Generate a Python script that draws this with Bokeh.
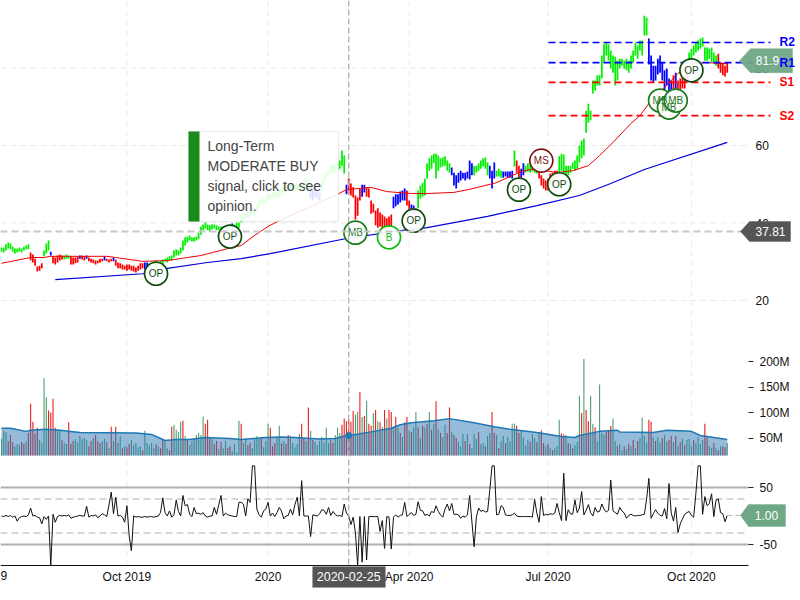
from bokeh.plotting import figure
from bokeh.models import Range1d, LinearAxis, FixedTicker, BoxAnnotation
from bokeh.core.properties import value
from bokeh.embed import file_html
from bokeh.resources import INLINE

# ---------- data ----------
price_high = [33.7,33.7,34.5,35.0,34.7,33.9,33.4,33.4,33.7,33.4,33.9,34.2,34.5,32.4,31.9,30.8,28.8,29.0,29.6,32.9,
 34.7,35.5,32.6,31.4,31.1,31.6,31.9,31.6,31.6,31.9,31.6,31.4,31.1,31.1,31.4,31.6,31.6,31.4,31.6,31.1,
 30.8,30.6,30.3,30.3,30.8,30.8,31.4,30.8,30.6,30.8,31.1,30.6,29.8,29.6,29.3,29.0,29.3,29.3,29.0,29.0,
 28.5,29.0,29.6,29.6,29.8,29.8,29.6,29.8,30.1,30.3,29.8,30.3,30.6,30.8,31.1,31.4,31.6,32.9,33.2,32.9,
 33.7,35.5,36.3,36.5,36.8,36.3,36.3,36.5,37.5,39.1,39.6,40.1,39.6,39.4,39.6,39.6,39.4,39.1,39.1,38.8,
 39.1,39.4,39.6,39.9,39.6,40.1,40.1,42.2,42.7,42.4,42.7,43.2,43.8,43.2,44.8,45.8,46.3,46.1,46.6,47.6,
 47.4,47.9,48.4,47.9,48.4,48.9,49.4,49.9,49.9,50.2,50.4,49.9,50.2,49.9,50.7,51.0,51.5,50.4,49.4,48.9,
 49.4,48.4,47.9,51.0,52.3,53.5,54.0,54.8,55.1,54.8,55.4,56.1,58.7,57.4,49.9,51.5,50.2,49.2,47.1,46.6,
 48.9,49.9,49.9,49.2,48.9,45.8,45.0,43.2,43.8,42.7,42.2,41.7,41.2,41.7,42.2,46.8,47.4,47.4,48.1,48.4,
 48.9,48.4,45.8,44.8,44.5,43.8,48.4,49.7,50.4,51.5,55.4,56.7,57.4,57.9,57.9,57.4,56.7,56.9,57.2,56.1,
 55.4,54.3,53.0,52.3,53.0,53.5,53.0,53.0,53.3,56.1,55.4,54.8,54.8,55.4,56.1,56.7,56.9,55.6,54.8,53.5,
 55.6,53.5,54.0,53.5,53.3,53.3,53.3,53.3,53.5,58.7,56.1,54.8,54.0,55.4,54.8,55.4,55.4,54.8,55.4,54.8,
 53.5,52.3,51.5,51.0,51.5,52.8,53.0,53.5,53.5,57.2,57.9,57.7,54.8,54.8,54.8,55.6,56.1,57.4,60.0,61.3,
 61.8,69.0,70.8,69.0,76.8,76.8,78.1,78.1,83.2,86.1,86.6,86.1,84.5,83.2,82.9,81.9,82.4,82.4,81.9,82.4,
 81.9,83.2,84.5,86.6,85.8,87.1,87.1,93.5,93.0,87.6,83.2,80.6,80.6,82.4,83.2,81.4,79.4,79.9,77.3,76.8,
 78.1,78.8,76.8,77.3,77.8,78.1,79.4,84.0,85.0,85.8,86.6,87.1,87.6,87.9,85.3,85.3,85.0,85.3,84.0,83.2,
 83.7,81.4,81.4,80.6,81.4]
price_low = [32.6,32.4,32.9,33.4,33.2,32.6,32.1,32.4,32.6,32.4,32.9,33.2,33.2,30.3,29.8,29.0,27.5,27.7,28.3,31.4,
 32.1,32.9,31.6,29.6,29.3,29.8,30.3,30.6,30.6,30.8,30.8,29.3,29.3,29.6,29.8,30.8,30.6,30.3,30.8,30.1,
 29.8,29.6,29.3,29.6,29.8,30.1,30.3,30.1,29.8,30.1,30.1,29.0,28.3,28.3,28.0,28.0,27.7,28.0,27.7,27.5,
 27.2,27.7,28.0,28.3,28.0,28.3,28.3,28.5,28.8,29.0,29.0,29.3,29.3,30.1,29.8,30.3,30.3,31.1,31.6,31.6,
 32.1,32.9,34.2,35.0,35.5,35.2,35.2,35.5,35.8,37.0,38.1,38.6,38.1,37.8,38.3,38.6,38.1,38.1,38.3,37.5,
 37.8,38.3,38.6,38.3,38.6,38.6,38.8,40.1,40.6,41.2,41.2,41.7,42.2,41.9,42.7,44.0,44.8,44.5,45.0,45.8,
 46.1,46.3,46.6,46.3,46.8,46.8,47.6,47.9,48.4,48.4,48.4,48.1,48.4,48.1,48.4,48.9,49.4,48.4,46.3,45.8,
 46.8,46.3,45.8,48.4,50.4,51.5,52.3,53.0,53.0,53.0,53.5,54.0,54.8,52.8,47.4,47.6,47.1,46.6,40.9,41.9,
 45.8,46.8,47.9,46.8,46.6,42.4,42.7,39.4,38.8,39.1,38.6,38.3,38.6,38.6,38.8,43.8,44.3,44.8,45.3,45.8,
 45.8,44.5,42.7,42.7,42.2,42.4,43.8,46.3,46.8,47.1,51.5,53.5,54.0,55.4,51.5,53.5,54.3,54.6,54.8,53.5,
 53.0,52.3,49.7,48.9,50.4,51.0,51.5,51.0,51.5,51.2,52.3,52.3,53.0,53.5,54.0,54.6,54.0,52.3,51.5,48.9,
 51.5,52.0,52.0,51.7,51.7,52.0,51.7,51.7,51.5,54.6,53.0,51.5,51.7,52.3,53.0,53.3,53.0,53.3,53.0,52.8,
 51.5,49.7,48.9,48.4,48.4,49.7,50.4,51.0,51.7,53.0,53.5,53.0,52.5,52.3,53.0,54.0,53.5,54.0,55.6,56.7,
 57.4,63.3,65.9,66.5,73.4,74.2,75.5,75.5,77.3,81.4,83.2,81.9,79.9,78.8,75.5,76.8,79.9,80.6,79.9,79.4,
 78.8,79.9,81.4,83.2,82.4,84.5,83.2,88.4,88.4,80.9,76.8,76.3,76.8,78.3,78.8,76.8,74.2,75.5,73.7,73.7,
 74.2,74.7,73.7,74.2,74.7,74.7,76.8,81.4,82.4,83.2,84.0,84.5,85.0,85.5,81.9,81.9,82.4,81.4,81.4,80.6,
 79.9,78.8,78.1,77.8,78.8]
bar_kind_runs = [("g",13),("r",6),("g",3),("b",1),("r",5),("g",3),("r",4),("b",1),("r",2),("b",1),("r",7),("b",1),
 ("r",3),("b",1),("r",13),("b",2),("g",37),("b",1),("g",34),("b",5),("g",11),("b",1),("r",6),("b",2),("r",12),
 ("b",6),("r",2),("b",2),("r",1),("g",15),("b",10),("g",7),("b",3),("g",3),("b",5),("g",1),("r",2),("b",2),
 ("g",6),("r",9),("g",40),("b",11),("r",1),("b",1),("r",5),("g",13),("r",5)]

ma50_day = [0,13,19,22,47,51,63,74,83,89,101,107,113,119,124,139,149,154,165,172,183,190,202,209,221,232,238,248,255,262,267,273,281,285,289,296,302,309,314,324]
ma50_val = [29.6,31.1,31.1,31.4,31.4,31.1,30.1,30.3,31.1,31.6,33.4,34.2,36.8,39.1,40.6,44.5,47.1,48.6,49.2,48.1,47.6,47.6,47.9,48.7,50.4,53.3,54.0,53.0,53.5,54.8,57.4,60.8,65.7,67.7,70.8,75.0,78.6,81.1,81.4,81.1]
ma200_day = [24,63,74,92,107,120,154,179,190,217,239,258,272,287,324]
ma200_val = [25.4,26.9,28.3,29.8,30.8,32.1,36.0,38.1,38.8,41.7,44.5,47.1,50.2,53.8,60.8]

volume = [49,64,62,44,56,42,34,38,36,42,38,44,60,117,82,59,70,46,40,167,130,104,100,127,70,67,66,46,40,38,
 81,38,44,48,42,54,48,50,46,34,44,50,56,44,40,44,48,42,30,72,44,72,40,54,30,34,32,38,46,36,
 40,32,34,26,64,40,36,40,30,38,34,30,46,44,30,26,72,76,66,62,82,84,54,46,36,44,50,56,60,56,
 92,78,86,52,48,38,44,28,42,30,44,30,34,24,38,22,84,78,40,48,36,40,30,50,54,48,52,32,44,78,
 70,34,40,50,74,40,44,38,56,54,40,32,38,58,78,48,44,110,64,46,42,36,44,52,40,70,40,46,40,56,
 70,60,76,88,83,86,82,103,96,101,140,91,93,123,78,74,99,105,83,81,72,105,88,105,101,70,91,70,60,52,
 81,91,64,62,70,101,70,50,74,70,78,101,66,78,122,66,60,52,76,60,110,62,56,50,42,34,58,44,58,38,
 30,58,48,62,38,40,34,54,60,101,60,56,30,44,54,40,52,44,78,78,74,60,64,50,36,46,42,58,50,42,
 62,65,40,34,38,30,26,30,34,86,59,57,56,40,38,30,36,42,133,99,205,105,83,133,78,71,44,155,60,56,
 62,66,74,88,44,34,38,26,34,28,38,34,46,30,44,50,90,54,40,86,82,52,44,52,40,50,56,44,46,54,
 42,54,34,42,48,36,46,48,34,46,40,52,38,46,78,54,34,30,40,30,26,34,34,32,40]
volume_red_days = [3,4,5,9,10,12,13,14,15,16,21,22,23,24,27,30,31,32,39,40,42,43,44,47,49,51,54,56,57,63,69,71,72,75,76,81,
 83,91,92,93,95,96,98,101,102,107,110,111,116,120,121,122,125,127,128,134,135,137,139,147,148,152,153,154,155,156,157,
 160,162,164,165,167,169,171,173,174,176,178,180,181,183,186,188,190,192,194,196,199,200,202,203,207,209,213,216,219,
 220,222,225,230,231,236,239,241,242,244,246,250,251,253,255,259,261,262,265,270,271,272,275,278,280,282,284,289,290,
 292,295,298,299,301,303,305,309,314,315,318,320,322,323]
volume_avg_day = [0,4,11,13,20,26,35,60,67,73,78,84,91,102,107,118,125,131,142,149,154,158,165,174,178,183,193,200,211,220,227,239,250,256,258,267,275,276,291,297,308,312,324]
volume_avg = [69,69,63,65,67,65,61,60,57,45,47,47,51,49,47,51,52,51,48,49,55,57,62,69,76,80,84,88,80,72,67,61,53,51,55,63,65,62,61,65,63,55,47]

oscillator = [0,-1,1,-1,1,-2,0,-9,-3,-1,0,-1,2,14,0,1,-2,-3,-14,-1,-6,0,-87,3,-11,-1,1,0,1,0,
 2,-4,-2,-1,0,1,0,0,17,-2,1,0,2,-3,0,4,2,-1,20,42,4,33,0,1,-2,-11,18,-35,-61,0,
 -2,-1,-2,-2,-1,-2,-1,-1,-2,-1,0,6,32,6,0,9,-2,2,28,8,0,36,18,20,3,-1,15,4,5,3,
 6,0,-2,0,0,15,3,20,36,0,5,2,1,0,-1,-1,24,24,21,0,30,24,88,88,12,2,-2,9,12,24,
 0,5,-1,6,15,9,-5,0,1,12,2,20,33,0,62,0,0,0,-36,2,1,0,4,11,10,3,15,1,8,3,
 0,1,-1,21,5,0,-15,-2,-29,-87,-1,-81,-1,-77,-1,-1,-1,-1,-1,-27,-8,-57,-1,-2,-58,-2,2,-2,1,2,
 24,-1,3,6,1,3,25,10,9,1,3,0,8,6,18,8,2,-2,12,21,9,22,3,3,2,-4,0,-2,2,36,
 -10,-54,-2,14,8,10,7,8,46,88,88,2,3,18,15,2,1,1,2,5,0,-1,-1,-1,-1,-1,-1,-2,29,5,
 -11,34,1,3,2,4,3,5,22,6,-8,75,-8,11,4,3,28,6,14,43,2,10,20,6,0,15,7,8,21,12,
 7,10,63,9,6,3,15,9,5,-4,1,3,1,0,1,1,2,3,30,66,-4,4,11,5,1,0,13,-5,57,5,
 -9,15,-29,-14,-5,3,6,8,1,-2,40,88,88,3,34,18,22,39,-1,28,30,6,4,-10,1]

signal_day = [69,102,158,173,184,231,249,241,294,298,301,308]
signal_price = [26.9,36.5,37.5,36.3,40.6,48.6,50.0,56.1,71.6,69.8,71.6,79.4]
signal_name = ["OP","OP","MB","B","OP","OP","OP","MS","MB","MB","MB","OP"]
signal_colors = {"OP":"#0f4d0f","MB":"#1a7a1a","B":"#11bb11","MS":"#7a1515"}

pivot_names = ["R2","R1","S1","S2"]
pivot_values = [86.6,81.4,76.3,67.7]
pivot_colors = ["#0000ff","#0000ff","#ff0000","#ff0000"]

price_ticks = [20,40,60,80]
volume_ticks = [50,100,150,200]
osc_ticks = [-50,50]
date_days = [56,119,182,244,308]
date_labels = ["Oct 2019","2020","Apr 2020","Jul 2020","Oct 2020"]
alert_lines = ["Long-Term","MODERATE BUY","signal, click to see","opinion."]
last_price = 37.81
last_close = 81.9
last_osc = 1.00
crosshair_day = 155
crosshair_label = "2020-02-25"

# ---------- pane geometry (pixels of the 800x600 page) ----------
FONT = value("Liberation Sans")
X = lambda px: (px - 1) / 2.24
PY = lambda px: 20 + (300 - px) / 3.875      # price pane
VY = lambda px: (463 - px) / 0.51            # volume pane
OY = lambda px: (515.5 - px) / 0.57          # oscillator pane
RIGHT = 748

assert len(price_high) == 325, len(price_high)
assert len(price_low) == 325, len(price_low)
assert len(volume) == 325, len(volume)
assert len(oscillator) == 325, len(oscillator)
kinds = [k for k, n in bar_kind_runs for _ in range(n)]
assert len(kinds) == 325, len(kinds)
days = list(range(325))

p = figure(width=800, height=600, output_backend="svg", toolbar_location=None,
           x_range=Range1d(X(0), X(800)), y_range=Range1d(PY(600), PY(0)),
           x_axis_type=None, y_axis_type=None, min_border=0, outline_line_color=None,
           background_fill_color="white", border_fill_color="white")
p.extra_y_ranges = {"vol": Range1d(VY(600), VY(0)), "osc": Range1d(OY(600), OY(0))}
p.xgrid.visible = False
p.ygrid.visible = False
p.styles = {"position": "absolute", "left": "0px", "top": "0px"}

# grid
GRID = "#ebebeb"
p.segment([d for d in date_days], PY(0), [d for d in date_days], PY(565), line_color=GRID, line_width=1, line_dash="6 4")
p.segment(X(0), price_ticks, X(RIGHT), price_ticks, line_color=GRID, line_width=1, line_dash="6 4")

# volume
vol_bottom = VY(455)
vol_colors = ["#e8241e" if d in volume_red_days else "#4f9f74" for d in days]
p.vbar(x=days, bottom=vol_bottom, top=volume, width=0.5, fill_color=vol_colors, line_color=None, y_range_name="vol")
p.varea(x=volume_avg_day, y1=[vol_bottom] * len(volume_avg_day), y2=volume_avg, fill_color="#2a77b4", fill_alpha=0.5, y_range_name="vol")
p.line(volume_avg_day, volume_avg, line_color="#1f77b4", line_width=1.5, y_range_name="vol")

# oscillator
p.segment(X(0), [50, -50], X(RIGHT), [50, -50], line_color="#b0b0b0", line_width=2, y_range_name="osc")
p.segment(X(0), [30, -30], X(RIGHT), [30, -30], line_color="#cccccc", line_width=1.5, line_dash="7 4", y_range_name="osc")
p.line(days, oscillator, line_color="#111111", line_width=1, y_range_name="osc")
p.segment(days[-1], last_osc, X(740), last_osc, line_color="#bbbbbb", line_width=1, line_dash="5 3", y_range_name="osc")

# price
color_of = {"g": "#00f000", "r": "#ff0000", "b": "#0000ff"}
p.vbar(x=days, bottom=price_low, top=price_high, width=0.78, fill_color=[color_of[k] for k in kinds], line_color=None)
p.line(ma200_day, ma200_val, line_color="#0000dd", line_width=1.2)
p.line(ma50_day, ma50_val, line_color="#ee0000", line_width=1)
p.segment(X(548), pivot_values, X(770), pivot_values, line_color=pivot_colors, line_width=1.6, line_dash="7 4")

# signals
sig_cols = [signal_colors[n] for n in signal_name]
p.scatter(signal_day, signal_price, marker="circle", size=23, fill_color="white", fill_alpha=0.92, line_color=sig_cols, line_width=1.7)
p.text(signal_day, signal_price, text=signal_name, text_color=sig_cols, text_align="center", text_baseline="middle",
       text_font=FONT, text_font_size="10px")

# crosshair
p.segment(crosshair_day, PY(0), crosshair_day, PY(565), line_color="#aaaaaa", line_width=1.2, line_dash="6 3")
p.segment(X(0), last_price, X(RIGHT), last_price, line_color="#c8c8c8", line_width=2, line_dash="7 4")
p.scatter([crosshair_day], [volume_avg[20]], marker="circle", size=6, fill_color="#1f77b4", line_color="#1f77b4", y_range_name="vol")

# axes
def right_axis(range_name, ticks, labels, tick_out, standoff):
    ax = LinearAxis(fixed_location=X(RIGHT), ticker=FixedTicker(ticks=ticks), major_label_overrides=labels,
                    axis_line_color=None, major_tick_out=tick_out, major_tick_in=0, minor_tick_line_color=None,
                    major_tick_line_color="#222222", major_label_standoff=standoff,
                    major_label_text_font="Liberation Sans", major_label_text_font_size="12px",
                    major_label_text_color="#111111")
    if range_name:
        ax.y_range_name = range_name
    p.add_layout(ax, "right")

right_axis(None, price_ticks, {t: str(t) for t in price_ticks}, 0, 7)
right_axis("vol", volume_ticks, {t: f"{t}M" for t in volume_ticks}, 5, 6)
right_axis("osc", osc_ticks, {t: str(t) for t in osc_ticks}, 5, 6)

xax = LinearAxis(fixed_location=PY(565), ticker=FixedTicker(ticks=date_days),
                 major_label_overrides=dict(zip(date_days, date_labels)), bounds=(X(0), X(RIGHT)),
                 axis_line_color="#111111", axis_line_width=1, major_tick_in=0, major_tick_out=0,
                 minor_tick_line_color=None, major_label_standoff=4,
                 major_label_text_font="Liberation Sans", major_label_text_font_size="12px",
                 major_label_text_color="#111111")
p.add_layout(xax, "below")
p.text([X(0)], [PY(575)], text=["9"], text_font=FONT, text_font_size="12px", text_color="#111111", text_baseline="middle")

# alert box
p.add_layout(BoxAnnotation(left=X(188), right=X(338), top=PY(131), bottom=PY(221), fill_color="white", fill_alpha=0.88,
                           line_color="#bbbbbb", line_width=1))
p.add_layout(BoxAnnotation(left=X(188), right=X(199), top=PY(131), bottom=PY(221), fill_color="#1a8a1a", fill_alpha=1,
                           line_color=None))
p.text([X(207)] * 4, [PY(145), PY(165), PY(185), PY(205)], text=alert_lines, text_font=FONT, text_font_size="14px",
       text_color="#444444", text_baseline="middle", level="overlay")

# value tags
def tag(val, to_data, half, tip, body, right, fill, alpha, text, text_px, range_name=None):
    kw = {"y_range_name": range_name} if range_name else {}
    ypx = {PY: 300 - (val - 20) * 3.875, OY: 515.5 - val * 0.57}[to_data]
    xs = [X(tip), X(body), X(right), X(right), X(body)]
    ys = [to_data(ypx), to_data(ypx - half), to_data(ypx - half), to_data(ypx + half), to_data(ypx + half)]
    p.patch(xs, ys, fill_color=fill, fill_alpha=alpha, line_color=fill, line_alpha=0.4, level="overlay", **kw)
    p.text([X(text_px)], [val], text=[text], text_color="white", text_align="center", text_baseline="middle",
           text_font=FONT, text_font_size="12px", level="overlay", **kw)

tag(last_price, PY, 10, 740, 749, 790, "#555555", 1, "37.81", 770)
tag(last_close, PY, 12, 739, 750, 792, "#6fa885", 0.95, "81.9", 767)
tag(last_osc, OY, 11, 740, 748, 785, "#6fa885", 1, "1.00", 766, "osc")

# pivot labels (above the tag)
p.text([X(779)] * 4, pivot_values, text=pivot_names, text_color=pivot_colors, text_baseline="middle", text_font=FONT,
       text_font_size="12px", text_font_style="bold", level="overlay")

# date tag
p.add_layout(BoxAnnotation(left=X(312), right=X(385), top=PY(566), bottom=PY(587), fill_color="#555555", fill_alpha=1,
                           line_color="#999999", line_width=1))
p.text([crosshair_day], [PY(576)], text=[crosshair_label], text_color="white", text_align="center", text_baseline="middle",
       text_font=FONT, text_font_size="12.5px", level="overlay")

open("out.html", "w").write(file_html(p, INLINE))
